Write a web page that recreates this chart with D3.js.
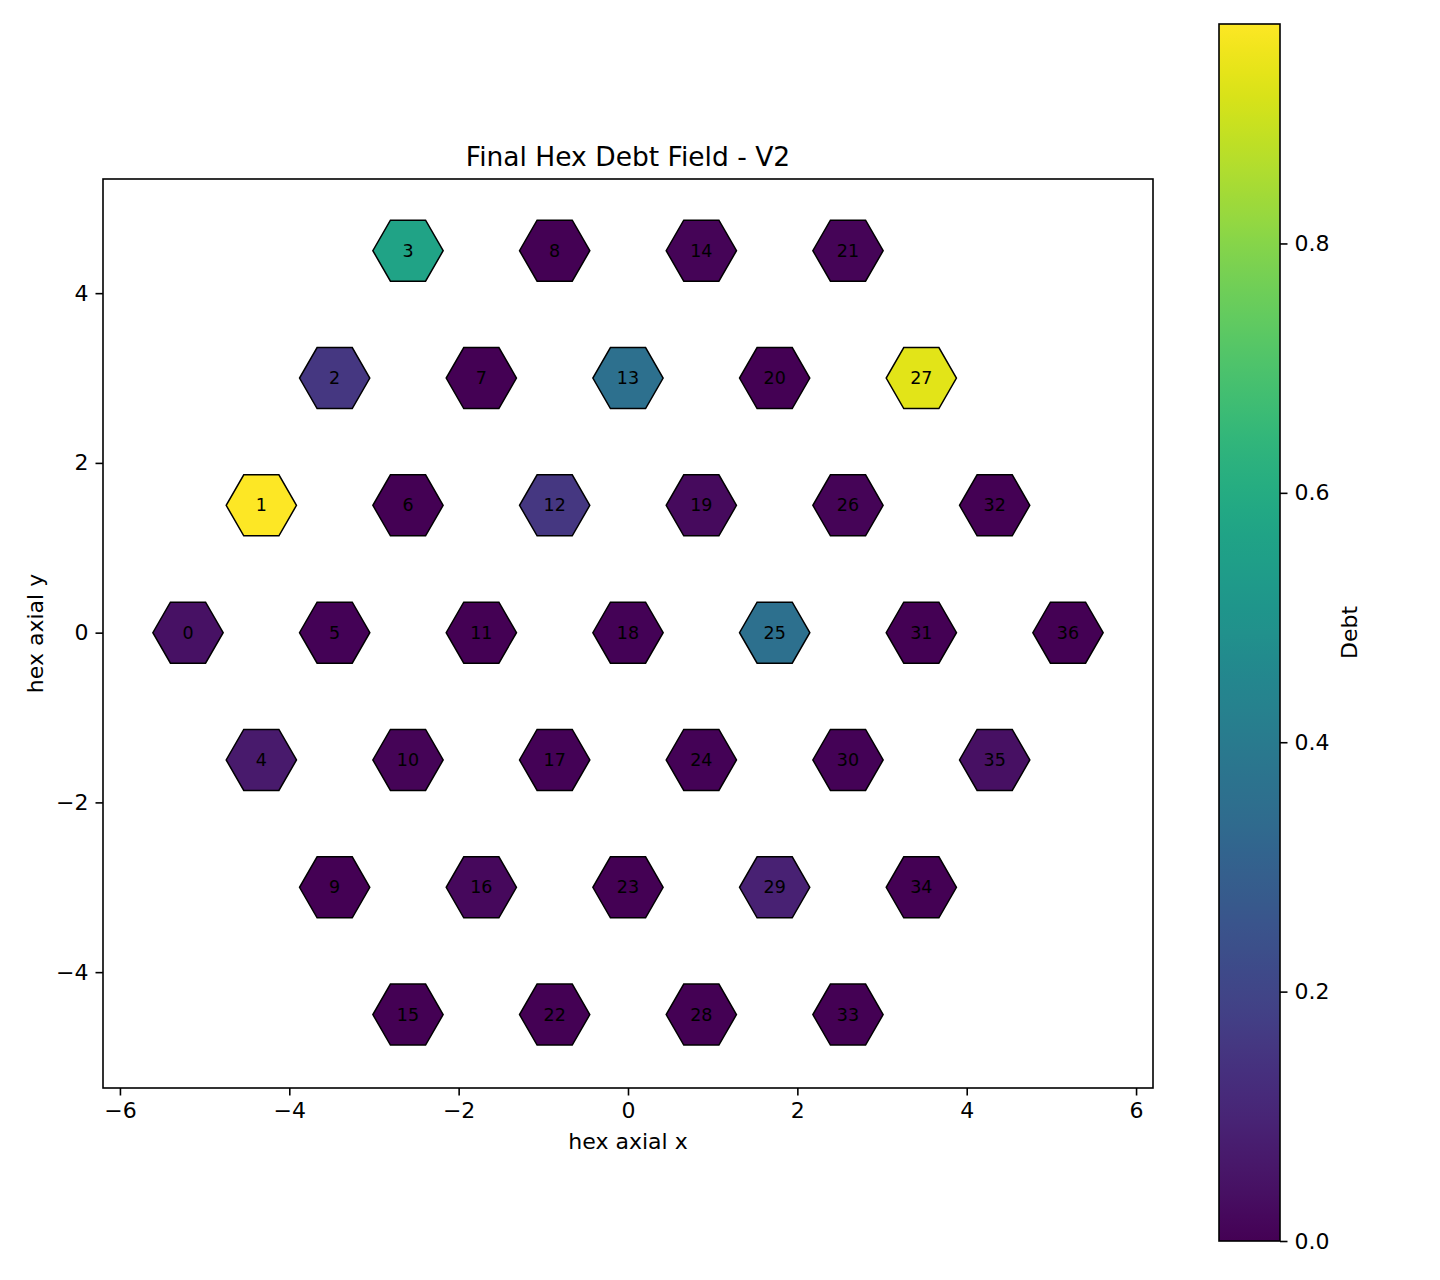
<!DOCTYPE html>
<html>
<head>
<meta charset="utf-8">
<script src="https://cdn.jsdelivr.net/npm/d3@7"></script>
<style>
  body { margin: 0; background: #fff; }
  text { font-family: "DejaVu Sans", sans-serif; fill: #000; }
</style>
</head>
<body>
<svg id="chart" width="1440" height="1280"></svg>
<script>
// hex cells in axial coordinates (q, r) and their final debt
const hexIds = d3.range(37);
const hexQ = [-3, -3, -3, -3, -2, -2, -2, -2, -2, -1, -1, -1, -1, -1, -1, 0, 0, 0, 0, 0, 0, 0,
              1, 1, 1, 1, 1, 1, 2, 2, 2, 2, 2, 3, 3, 3, 3];
const hexR = [0, 1, 2, 3, -1, 0, 1, 2, 3, -2, -1, 0, 1, 2, 3, -3, -2, -1, 0, 1, 2, 3,
              -3, -2, -1, 0, 1, 2, -3, -2, -1, 0, 1, -3, -2, -1, 0];
const debt = [0.044, 0.976, 0.156, 0.566, 0.068, 0.004, 0.002, 0.001, 0.002, 0.001, 0.008, 0.003,
              0.156, 0.356, 0.010, 0.002, 0.022, 0.004, 0.004, 0.024, 0.002, 0.008, 0.002,
              0.003, 0.004, 0.356, 0.008, 0.932, 0.003, 0.088, 0.004, 0.003, 0.002, 0.002,
              0.002, 0.040, 0.002];

const xTicks = [-6, -4, -2, 0, 2, 4, 6];
const yTicks = [-4, -2, 0, 2, 4];
const cbTicks = [0, 0.2, 0.4, 0.6, 0.8];

const hexRadius = 0.415;
const margin = { top: 179, right: 287, bottom: 192, left: 103 };
const width = 1440 - margin.left - margin.right;
const height = 1280 - margin.top - margin.bottom;

const svg = d3.select("#chart");
const g = svg.append("g").attr("transform", `translate(${margin.left},${margin.top})`);

const x = d3.scaleLinear().domain([-6.2, 6.2]).range([0, width]);
const y = d3.scaleLinear().domain([-5.365, 5.345]).range([height, 0]);
const color = d3.scaleSequential(d3.interpolateViridis).domain([0, d3.max(debt)]);

const cells = hexIds.map(i => ({
  id: i,
  cx: Math.sqrt(3) * (hexQ[i] + hexR[i] / 2),
  cy: 1.5 * hexR[i],
  debt: debt[i]
}));

// flat-top hexagon path in data units
const hexPath = d => d3.range(6).map(k => {
  const a = Math.PI / 3 * k;
  return [x(d.cx + hexRadius * Math.cos(a)), y(d.cy + hexRadius * Math.sin(a))];
});

g.selectAll("polygon.hex")
  .data(cells)
  .enter()
  .append("polygon")
  .attr("class", "hex")
  .attr("points", d => hexPath(d).map(p => p.join(",")).join(" "))
  .attr("fill", d => color(d.debt))
  .attr("stroke", "#000")
  .attr("stroke-width", 1.5);

g.selectAll("text.hexlabel")
  .data(cells)
  .enter()
  .append("text")
  .attr("class", "hexlabel")
  .attr("x", d => x(d.cx))
  .attr("y", d => y(d.cy))
  .attr("text-anchor", "middle")
  .attr("dominant-baseline", "central")
  .style("font-size", "17.5px")
  .text(d => d.id);

// axes
const xAxis = g.append("g")
  .attr("transform", `translate(0,${height})`)
  .call(d3.axisBottom(x).tickValues(xTicks).tickSize(7.5).tickPadding(7));
const yAxis = g.append("g")
  .call(d3.axisLeft(y).tickValues(yTicks).tickSize(7.5).tickPadding(7));
[xAxis, yAxis].forEach(a => {
  a.select(".domain").remove();
  a.selectAll(".tick line").attr("stroke", "#000").attr("stroke-width", 1.6);
  a.selectAll(".tick text").style("font-size", "22px").attr("fill", "#000");
});

g.append("rect")
  .attr("width", width).attr("height", height)
  .attr("fill", "none").attr("stroke", "#000").attr("stroke-width", 1.6);

g.append("text")
  .attr("x", width / 2).attr("y", -13)
  .attr("text-anchor", "middle")
  .style("font-size", "26.5px")
  .text("Final Hex Debt Field - V2");

g.append("text")
  .attr("x", width / 2).attr("y", height + 61)
  .attr("text-anchor", "middle")
  .style("font-size", "22px")
  .text("hex axial x");

g.append("text")
  .attr("transform", `translate(-60,${height / 2}) rotate(-90)`)
  .attr("text-anchor", "middle")
  .style("font-size", "22px")
  .text("hex axial y");

// colorbar
const cb = { x: 1219, y: 24, w: 61, h: 1217 };
const cbScale = d3.scaleLinear().domain(color.domain()).range([cb.y + cb.h, cb.y]);

const grad = svg.append("defs").append("linearGradient")
  .attr("id", "viridis").attr("x1", 0).attr("y1", 1).attr("x2", 0).attr("y2", 0);
grad.selectAll("stop")
  .data(d3.range(0, 1.0001, 0.02))
  .enter()
  .append("stop")
  .attr("offset", t => t)
  .attr("stop-color", t => d3.interpolateViridis(t));

svg.append("rect")
  .attr("x", cb.x).attr("y", cb.y).attr("width", cb.w).attr("height", cb.h)
  .attr("fill", "url(#viridis)")
  .attr("stroke", "#000").attr("stroke-width", 1.6);

const cbAxis = svg.append("g")
  .attr("transform", `translate(${cb.x + cb.w},0)`)
  .call(d3.axisRight(cbScale).tickValues(cbTicks).tickFormat(d3.format(".1f")).tickSize(7.5).tickPadding(7));
cbAxis.select(".domain").remove();
cbAxis.selectAll(".tick line").attr("stroke", "#000").attr("stroke-width", 1.6);
cbAxis.selectAll(".tick text").style("font-size", "22px").attr("fill", "#000");

svg.append("text")
  .attr("transform", `translate(1357,${cb.y + cb.h / 2}) rotate(-90)`)
  .attr("text-anchor", "middle")
  .style("font-size", "22px")
  .text("Debt");
</script>
</body>
</html>
